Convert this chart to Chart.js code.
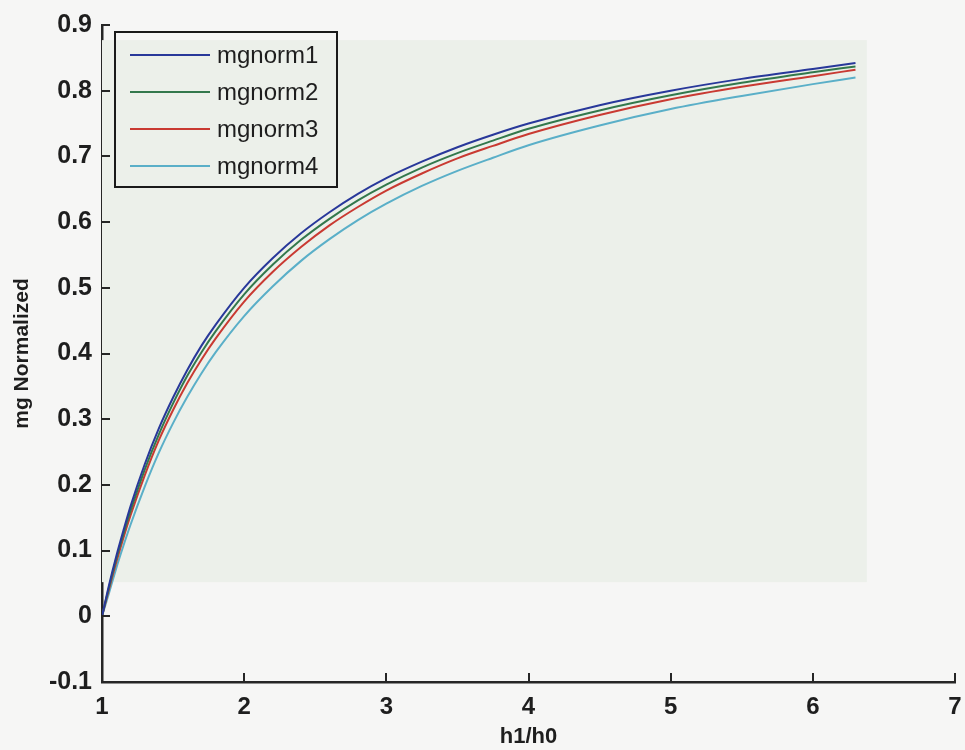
<!DOCTYPE html>
<html lang="en">
<head>
  <meta charset="UTF-8" />
  <title>mg Normalized vs h1/h0</title>
  <script src="https://cdn.jsdelivr.net/npm/chart.js"></script>
  <style>
    html, body {
      margin: 0;
      padding: 0;
      background: #f6f6f5;
    }
    #wrap {
      width: 965px;
      height: 750px;
    }
  </style>
</head>
<body>
  <div id="wrap"><canvas id="mgChart" width="965" height="750"></canvas></div>

  <script>
    // h1/h0 sample points
    const ratio = [1, 1.05, 1.1, 1.15, 1.2, 1.3, 1.4, 1.5, 1.6, 1.7, 1.8, 2, 2.2, 2.4, 2.6, 2.8, 3, 3.25, 3.5, 3.75, 4, 4.5, 5, 5.5, 6, 6.3];

    const mgnorm1 = [0, 0.048, 0.091, 0.130, 0.167, 0.231, 0.286, 0.333, 0.375, 0.412, 0.444, 0.500, 0.545, 0.583, 0.615, 0.643, 0.667, 0.692, 0.714, 0.733, 0.750, 0.778, 0.800, 0.818, 0.833, 0.842];
    const mgnorm2 = [0, 0.045, 0.087, 0.125, 0.160, 0.223, 0.277, 0.324, 0.366, 0.402, 0.434, 0.490, 0.535, 0.573, 0.605, 0.633, 0.657, 0.683, 0.705, 0.724, 0.742, 0.770, 0.793, 0.812, 0.828, 0.837];
    const mgnorm3 = [0, 0.042, 0.082, 0.119, 0.153, 0.214, 0.268, 0.314, 0.355, 0.391, 0.423, 0.479, 0.524, 0.562, 0.595, 0.623, 0.648, 0.674, 0.697, 0.716, 0.734, 0.763, 0.787, 0.806, 0.822, 0.832];
    const mgnorm4 = [0, 0.036, 0.073, 0.107, 0.139, 0.197, 0.249, 0.294, 0.334, 0.370, 0.402, 0.457, 0.502, 0.541, 0.574, 0.603, 0.628, 0.655, 0.678, 0.698, 0.717, 0.747, 0.772, 0.792, 0.810, 0.820];

    const seriesNames = ["mgnorm1", "mgnorm2", "mgnorm3", "mgnorm4"];
    const seriesColors = ["#28389a", "#33784c", "#c93a32", "#5aafc8"];
    const seriesValues = [mgnorm1, mgnorm2, mgnorm3, mgnorm4];

    const xTicks = [1, 2, 3, 4, 5, 6, 7];
    const yTicks = [-0.1, 0, 0.1, 0.2, 0.3, 0.4, 0.5, 0.6, 0.7, 0.8, 0.9];

    const axisColor = "#262626";

    const datasets = seriesNames.map((name, i) => ({
      label: name,
      data: ratio.map((x, j) => ({ x, y: seriesValues[i][j] })),
      borderColor: seriesColors[i],
      backgroundColor: seriesColors[i],
      borderWidth: 2,
      pointRadius: 0,
      cubicInterpolationMode: "monotone",
      fill: false
    }));

    // faint tinted patch from the scanned figure, plus inward tick marks
    const paperPlugin = {
      id: "paper",
      beforeDatasetsDraw(chart) {
        const { ctx, scales: { x, y } } = chart;
        const left = x.getPixelForValue(1);
        const right = x.getPixelForValue(6.38);
        const top = y.getPixelForValue(0.877);
        const bottom = y.getPixelForValue(0.052);
        ctx.save();
        ctx.fillStyle = "#ecf0ea";
        ctx.fillRect(left, top, right - left, bottom - top);
        ctx.restore();
      },
      afterDraw(chart) {
        const { ctx, chartArea, scales: { x, y } } = chart;
        ctx.save();
        ctx.strokeStyle = axisColor;
        ctx.lineWidth = 2;
        ctx.beginPath();
        yTicks.forEach(v => {
          const py = Math.round(y.getPixelForValue(v));
          ctx.moveTo(chartArea.left, py);
          ctx.lineTo(chartArea.left + 8, py);
        });
        xTicks.slice(1).forEach(v => {
          const px = Math.round(x.getPixelForValue(v));
          ctx.moveTo(px, chartArea.bottom);
          ctx.lineTo(px, chartArea.bottom - 9);
        });
        ctx.stroke();

        // legend box in the upper-left corner
        const bx = 115, by = 32, bw = 222, bh = 155;
        ctx.lineWidth = 2;
        ctx.strokeStyle = "#1a1a1a";
        ctx.strokeRect(bx, by, bw, bh);
        ctx.font = "24px 'Liberation Sans', Arial, sans-serif";
        ctx.textBaseline = "middle";
        ctx.fillStyle = "#1e1e1e";
        chart.data.datasets.forEach((ds, i) => {
          const ry = by + 23 + i * 37;
          ctx.strokeStyle = ds.borderColor;
          ctx.lineWidth = 2;
          ctx.beginPath();
          ctx.moveTo(bx + 15, ry);
          ctx.lineTo(bx + 95, ry);
          ctx.stroke();
          ctx.fillText(ds.label, bx + 102, ry + 1);
        });
        ctx.restore();
      }
    };

    new Chart(document.getElementById("mgChart"), {
      type: "line",
      data: { datasets },
      options: {
        responsive: false,
        animation: false,
        layout: { padding: { top: 20, right: 2, left: 0, bottom: 0 } },
        plugins: {
          legend: { display: false },
          tooltip: { enabled: false }
        },
        scales: {
          x: {
            type: "linear",
            min: 1,
            max: 7,
            afterFit(scale) {
              scale.height = 68;
              scale.paddingRight = 10;
              scale.paddingLeft = 0;
            },
            afterBuildTicks(scale) { scale.ticks = xTicks.map(v => ({ value: v })); },
            grid: { display: false, drawTicks: false },
            border: { display: true, color: axisColor, width: 2.5 },
            ticks: {
              color: "#1e1e1e",
              padding: 11,
              maxRotation: 0,
              font: { family: "'Liberation Sans', Arial, sans-serif", size: 24, weight: "bold" },
              callback: v => String(v)
            },
            title: {
              display: true,
              text: "h1/h0",
              color: "#1e1e1e",
              padding: { top: 0, bottom: 0 },
              font: { family: "'Liberation Sans', Arial, sans-serif", size: 22, weight: "bold" }
            }
          },
          y: {
            type: "linear",
            min: -0.1,
            max: 0.9,
            afterFit(scale) { scale.width = 102; },
            afterBuildTicks(scale) { scale.ticks = yTicks.map(v => ({ value: v })); },
            grid: { display: false, drawTicks: false },
            border: { display: true, color: axisColor, width: 2.5 },
            ticks: {
              color: "#1e1e1e",
              padding: 10,
              font: { family: "'Liberation Sans', Arial, sans-serif", size: 25, weight: "bold" },
              callback: v => String(Math.round(v * 10) / 10)
            },
            title: {
              display: true,
              text: "mg Normalized",
              color: "#1e1e1e",
              padding: { top: 10, bottom: 0 },
              font: { family: "'Liberation Sans', Arial, sans-serif", size: 21, weight: "bold" }
            }
          }
        }
      },
      plugins: [paperPlugin]
    });
  </script>
</body>
</html>
